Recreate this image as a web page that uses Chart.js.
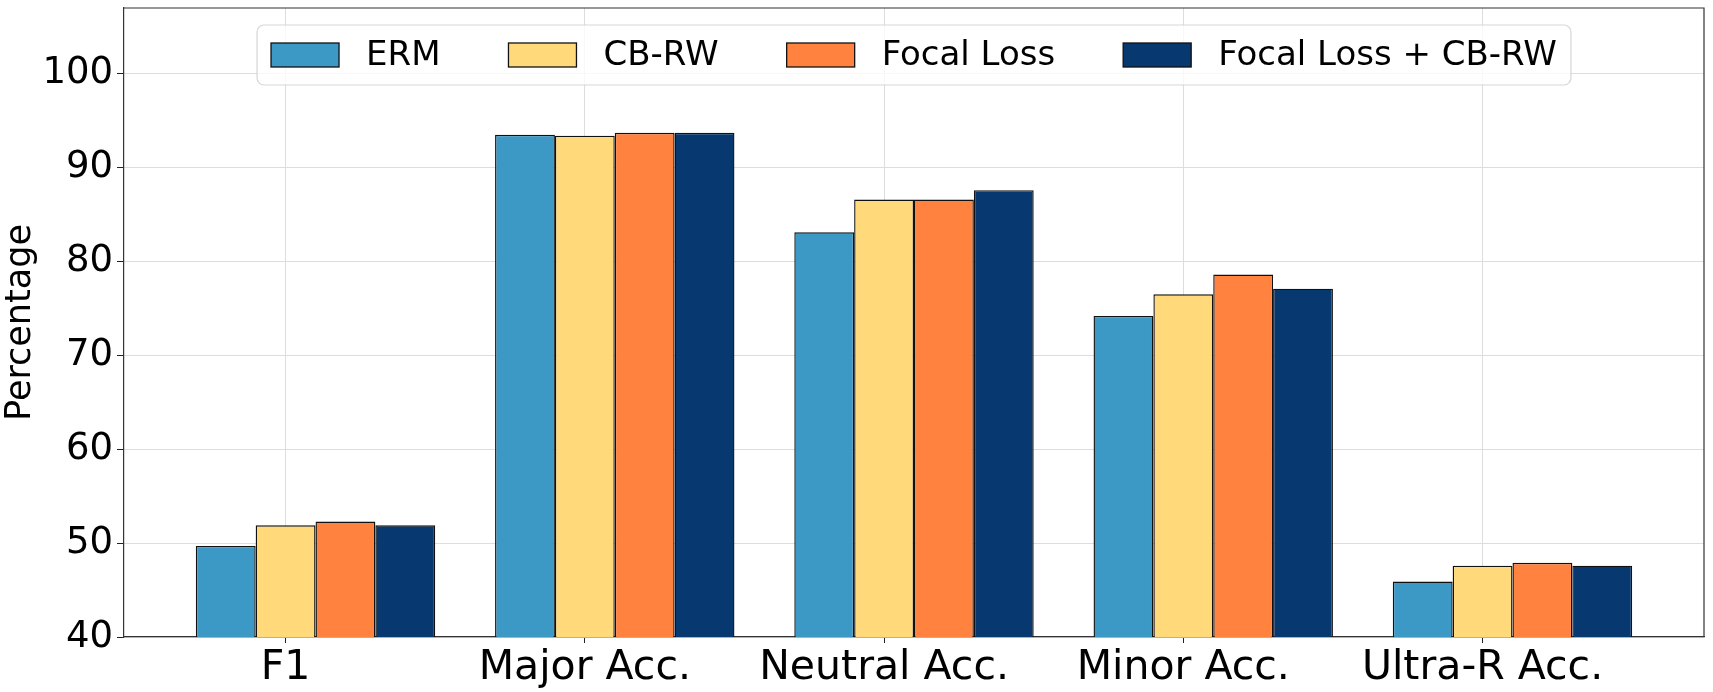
<!DOCTYPE html>
<html>
<head>
<meta charset="utf-8">
<script src="https://cdn.jsdelivr.net/npm/chart.js@4.4.1/dist/chart.umd.min.js"></script>
<style>
html, body { margin: 0; padding: 0; background: #fff; }
</style>
</head>
<body>
<canvas id="bar-chart" width="1713" height="692"></canvas>
<script>
var categories = ['F1', 'Major Acc.', 'Neutral Acc.', 'Minor Acc.', 'Ultra-R Acc.'];
var seriesNames = ['ERM', 'CB-RW', 'Focal Loss', 'Focal Loss + CB-RW'];
var ermValues = [49.7, 93.5, 83.1, 74.2, 45.9];
var cbrwValues = [51.9, 93.4, 86.6, 76.5, 47.6];
var focalValues = [52.3, 93.7, 86.6, 78.6, 47.9];
var focalCbrwValues = [51.9, 93.7, 87.6, 77.1, 47.6];
var yTicks = [40, 50, 60, 70, 80, 90, 100];
var colors = ['#3C99C6', '#FFD97A', '#FF823F', '#07386F'];

var FONT = "'DejaVu Sans', sans-serif";
// the group of four bars is shifted so that the 2nd bar sits on the tick
var groupShift = 0.1;

function points(values) {
    return values.map(function (v, i) { return { x: i + groupShift, y: v }; });
}

var allValues = [ermValues, cbrwValues, focalValues, focalCbrwValues];
var datasets = allValues.map(function (vals, k) {
    return {
        label: seriesNames[k],
        data: points(vals),
        backgroundColor: colors[k],
        borderColor: '#111',
        borderWidth: 1.4,
        borderSkipped: false,
        categoryPercentage: 0.8,
        barPercentage: 1.0
    };
});

// top/right spines
var framePlugin = {
    id: 'frame',
    afterDraw: function (chart) {
        var a = chart.chartArea, c = chart.ctx;
        c.save();
        c.strokeStyle = '#333';
        c.lineWidth = 1.2;
        c.beginPath();
        c.moveTo(a.left, a.top);
        c.lineTo(a.right, a.top);
        c.lineTo(a.right, a.bottom);
        c.stroke();
        c.restore();
    }
};

// matplotlib-like legend box inside the plot, top centre
var legendPlugin = {
    id: 'boxLegend',
    afterDraw: function (chart) {
        var a = chart.chartArea, c = chart.ctx;
        var fs = 34, handleW = 68, handleH = 24, textPad = 27, colSpace = 68, padX = 14;
        var boxTop = a.top + 17, boxH = 60;
        c.save();
        c.font = fs + 'px ' + FONT;
        var widths = chart.data.datasets.map(function (d) { return c.measureText(d.label).width; });
        var total = padX * 2;
        widths.forEach(function (w, i) { total += handleW + textPad + w + (i > 0 ? colSpace : 0); });
        var left = (a.left + a.right) / 2 - total / 2;
        var r = 7;
        c.beginPath();
        c.moveTo(left + r, boxTop);
        c.arcTo(left + total, boxTop, left + total, boxTop + boxH, r);
        c.arcTo(left + total, boxTop + boxH, left, boxTop + boxH, r);
        c.arcTo(left, boxTop + boxH, left, boxTop, r);
        c.arcTo(left, boxTop, left + total, boxTop, r);
        c.closePath();
        c.fillStyle = 'rgba(255,255,255,0.8)';
        c.fill();
        c.strokeStyle = 'rgba(204,204,204,0.8)';
        c.lineWidth = 1.2;
        c.stroke();

        var cy = boxTop + boxH / 2;
        var x = left + padX;
        chart.data.datasets.forEach(function (d, i) {
            c.fillStyle = d.backgroundColor;
            c.fillRect(x, cy - handleH / 2, handleW, handleH);
            c.strokeStyle = '#111';
            c.lineWidth = 1.3;
            c.strokeRect(x, cy - handleH / 2, handleW, handleH);
            c.fillStyle = '#000';
            c.textBaseline = 'middle';
            c.textAlign = 'left';
            c.fillText(d.label, x + handleW + textPad, cy + 1);
            x += handleW + textPad + widths[i] + colSpace;
        });
        c.restore();
    }
};

var ctx = document.getElementById('bar-chart').getContext('2d');
var myChart = new Chart(ctx, {
    type: 'bar',
    data: { datasets: datasets },
    plugins: [framePlugin, legendPlugin],
    options: {
        responsive: false,
        animation: false,
        devicePixelRatio: 1,
        layout: { padding: { top: 8, right: 9, left: 0, bottom: 0 } },
        plugins: {
            legend: { display: false },
            tooltip: { enabled: false }
        },
        scales: {
            x: {
                type: 'linear',
                offset: false,
                min: -0.54,
                max: 4.74,
                afterBuildTicks: function (axis) {
                    axis.ticks = categories.map(function (c, i) { return { value: i }; });
                },
                afterFit: function (axis) {
                    axis.height = 55;
                    axis.paddingLeft = 0;
                    axis.paddingRight = 0;
                },
                grid: { offset: false, color: '#dddddd', lineWidth: 1, tickLength: 6, tickColor: '#222' },
                border: { display: true, color: '#333', width: 1.2 },
                ticks: {
                    autoSkip: false,
                    maxRotation: 0,
                    padding: 1,
                    color: '#000',
                    font: { family: FONT, size: 41 },
                    callback: function (value, index) { return categories[index]; }
                }
            },
            y: {
                min: 40,
                max: 107,
                afterBuildTicks: function (axis) {
                    axis.ticks = yTicks.map(function (v) { return { value: v }; });
                },
                afterFit: function (axis) {
                    axis.width = 124;
                    axis.paddingTop = 0;
                    axis.paddingBottom = 0;
                },
                grid: { color: '#dddddd', lineWidth: 1, tickLength: 7, tickColor: '#222' },
                border: { display: true, color: '#333', width: 1.2 },
                title: {
                    display: true,
                    text: 'Percentage',
                    color: '#000',
                    font: { family: FONT, size: 35 },
                    padding: { top: 0, bottom: 0 }
                },
                ticks: {
                    padding: 4,
                    color: '#000',
                    font: { family: FONT, size: 37 }
                }
            }
        }
    }
});
</script>
</body>
</html>
